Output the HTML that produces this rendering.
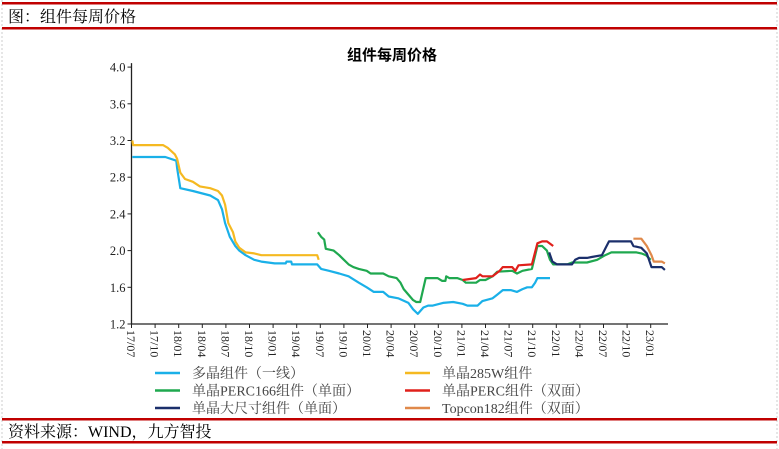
<!DOCTYPE html>
<html><head><meta charset="utf-8"><style>
body{margin:0;background:#fff;}
svg{display:block;font-family:"Liberation Serif","Noto Serif CJK SC",serif;}
</style></head><body>
<svg width="779" height="449" viewBox="0 0 779 449" xmlns="http://www.w3.org/2000/svg" id="root">
<line x1="2" y1="0" x2="2" y2="449" stroke="#ccc" stroke-dasharray="2,2"/>
<line x1="777" y1="0" x2="777" y2="449" stroke="#ccc" stroke-dasharray="2,2"/>
<rect x="2" y="2" width="775" height="2.5" fill="#c00000"/>
<rect x="2" y="27" width="775" height="2.5" fill="#c00000"/>
<text x="8" y="22" font-size="16" font-family="Liberation Serif, Noto Serif CJK SC, serif">图：组件每周价格</text>
<text x="392" y="60" font-size="15" font-weight="bold" text-anchor="middle" font-family="Liberation Sans, Noto Sans CJK SC, sans-serif">组件每周价格</text>
<g id="axes"></g>
<g id="series"></g>
<g id="legend"></g>
<rect x="2" y="418" width="775" height="2.5" fill="#c00000"/>
<rect x="2" y="441" width="775" height="2.5" fill="#c00000"/>
<text x="8" y="437" font-size="16">资料来源：WIND，九方智投</text>
</svg>
<script>
const NS="http://www.w3.org/2000/svg";
const yTicks=[1.2,1.6,2.0,2.4,2.8,3.2,3.6,4.0];
const xTickLabels=["17/07","17/10","18/01","18/04","18/07","18/10","19/01","19/04","19/07","19/10","20/01","20/04","20/07","20/10","21/01","21/04","21/07","21/10","22/01","22/04","22/07","22/10","23/01"];
// months since 2017/07
const polyM=[0.1,4.3,5.7,5.8,6.2,7.8,10,11,11.5,11.9,12.5,13.2,13.7,14.5,15.6,16.5,18.2,19.6,19.7,20.3,20.4,23.6,24.1,25.1,26.4,27.6,28.9,29.9,30.8,32,32.7,33.9,35.2,35.8,36.4,37.1,37.7,38.3,39.6,40.9,42.1,42.7,44,44.6,45.9,46.5,47.2,48.2,49,49.7,50.3,50.9,51.3,51.6,53.2];
const polyV=[3.02,3.02,2.98,2.9,2.68,2.65,2.6,2.55,2.45,2.3,2.15,2.05,2.0,1.95,1.9,1.88,1.86,1.86,1.88,1.88,1.85,1.85,1.8,1.78,1.75,1.72,1.65,1.6,1.55,1.55,1.5,1.48,1.43,1.36,1.31,1.38,1.4,1.4,1.43,1.44,1.42,1.4,1.4,1.45,1.48,1.52,1.57,1.57,1.55,1.58,1.6,1.6,1.65,1.7,1.7];
const monoM=[0.1,0.2,4.0,4.6,5.5,5.8,6.2,6.8,7.8,8.7,10,11,11.5,11.9,12.3,12.9,13.2,13.7,14.5,15.6,16.5,23.6,23.8];
const monoV=[3.2,3.15,3.15,3.12,3.05,3.0,2.85,2.78,2.75,2.7,2.68,2.65,2.6,2.5,2.3,2.2,2.1,2.03,1.98,1.97,1.95,1.95,1.9];
const perc166M=[23.7,24.1,24.5,24.7,25.7,26.4,27,27.6,28.2,28.9,29.9,30.4,32,32.7,33.7,34.2,34.6,35.2,35.8,36.2,36.7,37.4,38.3,38.9,39.5,39.9,40.0,40.4,41.4,42.1,42.5,43.8,44.3,45,45.9,46.5,48.4,49,49.7,50.9,51.6,52.2,52.8,53.2,53.6,55.4,56,57.9,59.2,60.2,61,64.2,64.8,65.4,66];
const perc166V=[2.2,2.15,2.12,2.02,2.0,1.95,1.9,1.85,1.82,1.8,1.78,1.75,1.75,1.72,1.7,1.65,1.58,1.52,1.46,1.44,1.44,1.7,1.7,1.7,1.67,1.67,1.72,1.7,1.7,1.68,1.65,1.65,1.68,1.68,1.72,1.77,1.78,1.75,1.78,1.8,2.05,2.05,2.0,1.9,1.85,1.85,1.87,1.87,1.9,1.95,1.98,1.98,1.97,1.95,1.9];
const percM=[42.1,43.8,44.3,44.6,45,45.9,46.8,47.2,48.4,48.8,49.2,50.9,51.6,52.2,52.8,53.6];
const percV=[1.68,1.7,1.74,1.72,1.72,1.72,1.78,1.82,1.82,1.78,1.84,1.85,2.08,2.1,2.1,2.05];
const bigM=[53.1,53.5,54.1,56,56.4,56.9,57.9,58.5,59.8,60.4,60.7,61.6,63.5,63.8,64.8,65.5,66.1,67.4,67.8];
const bigV=[1.98,1.88,1.85,1.85,1.9,1.92,1.92,1.93,1.95,2.05,2.1,2.1,2.1,2.05,2.03,1.97,1.82,1.82,1.79];
const topM=[63.8,64.8,65.5,66.1,66.4,67.4,67.8];
const topV=[2.13,2.13,2.05,1.95,1.88,1.88,1.86];

const X0=131.5,X1=668,MW=23.6/3;
function xs(m){return X0+m*MW;}
function ys(v){return 324-(v-1.2)*(36.7/0.4);}
function mk(t,a,p){const e=document.createElementNS(NS,t);for(const k in a)e.setAttribute(k,a[k]);(p||document.getElementById('root')).appendChild(e);return e;}
const ax=document.getElementById('axes');
let e=mk('line',{x1:X0,y1:ys(4.0)-4,x2:X0,y2:324,stroke:'#222','stroke-width':1.3},ax);


e=mk('line',{x1:X0,y1:324,x2:X1,y2:324,stroke:'#222','stroke-width':1.3},ax);


yTicks.forEach(v=>{
  const t=mk('line',{x1:X0-4,y1:ys(v),x2:X0,y2:ys(v),stroke:'#222'},ax);
  
  
  const l=mk('text',{x:X0-6,y:ys(v)+4.5,'font-size':12.5,'text-anchor':'end',fill:'#222'},ax);
  l.textContent=v.toFixed(1);
  
  
});
xTickLabels.forEach((s,i)=>{
  const x=xs(i*3);
  const t=mk('line',{x1:x,y1:324,x2:x,y2:328,stroke:'#222'},ax);
  
  
  const l=mk('text',{x:0,y:0,'font-size':12,fill:'#222',transform:`translate(${x-4.5},330) rotate(90)`},ax);
  l.textContent=s;
  
  
});
const ser=document.getElementById('series');
const defs=[
 [polyM,polyV,'#1ab0e8','series-multicrystalline'],
 [monoM,monoV,'#f5b921','series-mono-285w'],
 [perc166M,perc166V,'#1fa84f','series-perc166'],
 [percM,percV,'#e0201b','series-perc-bifacial'],
 [bigM,bigV,'#1b2f6b','series-large-size'],
 [topM,topV,'#e0894a','series-topcon182']];
defs.forEach(d=>{
  const pts=d[0].map((m,i)=>xs(m).toFixed(1)+','+ys(d[1][i]).toFixed(1)).join(' ');
  const p=mk('polyline',{points:pts,fill:'none',stroke:d[2],'stroke-width':2.2,'stroke-linejoin':'round'},ser);
  
  
});
const legendNames=["多晶组件（一线）","单晶285W组件","单晶PERC166组件（单面）","单晶PERC组件（双面）","单晶大尺寸组件（单面）","Topcon182组件（双面）"];
const lg=document.getElementById('legend');
legendNames.forEach((n,i)=>{
  const col=i%2,row=Math.floor(i/2);
  const x=col?405:155,y=373+row*17.5;
  const g=mk('g',{},lg);
  
  
  mk('line',{x1:x,y1:y,x2:x+25,y2:y,stroke:defs[i][2],'stroke-width':2.5},g);
  const t=mk('text',{x:x+37,y:y+5,'font-size':14,fill:'#444'},g);
  t.textContent=n;
});
</script>
</body></html>
